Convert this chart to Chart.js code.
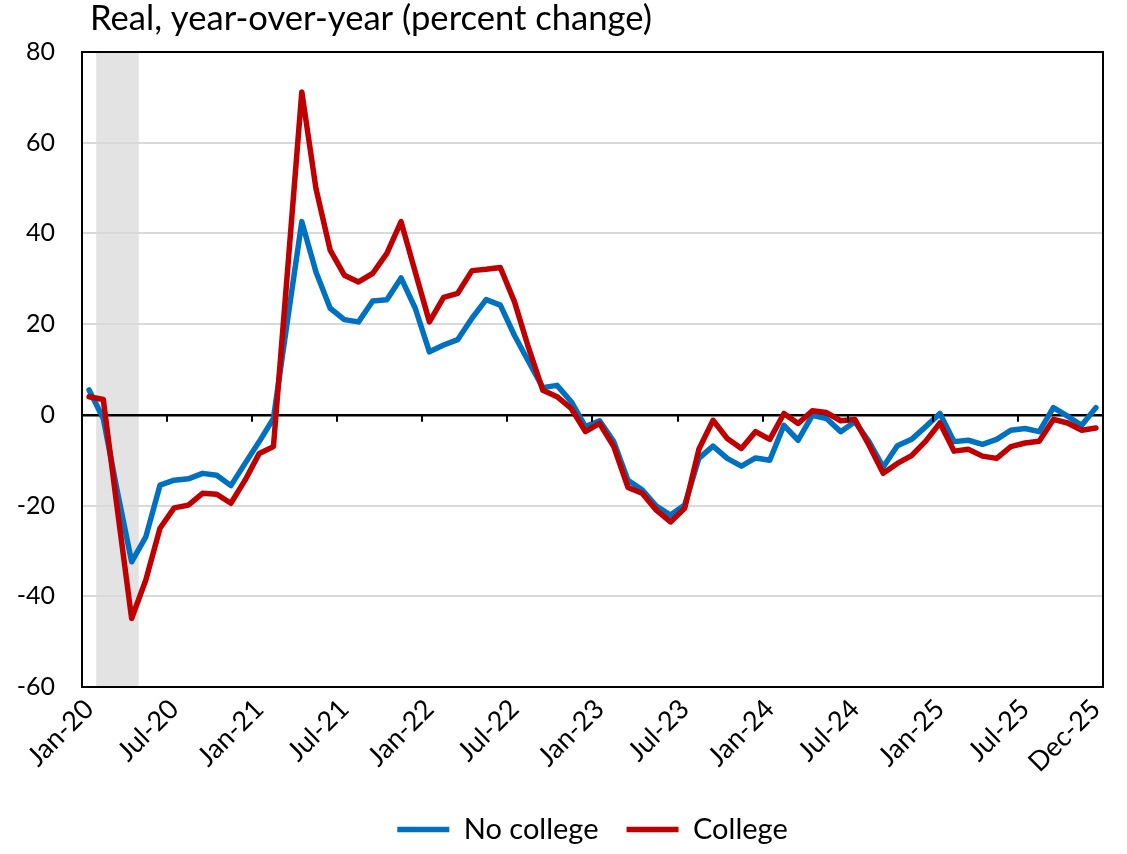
<!DOCTYPE html>
<html lang="en">
<head>
  <meta charset="UTF-8">
  <title>Real, year-over-year</title>
  <script src="https://cdn.jsdelivr.net/npm/chart.js"></script>
  <style>
    html, body { margin: 0; padding: 0; background: #fff; }
    .wrap { width: 1127px; height: 854px; }
  </style>
</head>
<body>
  <div class="wrap">
    <canvas id="myChart" width="1127" height="854"></canvas>
  </div>

<script>
  // categories
  var meses = ['Jan','Feb','Mar','Apr','May','Jun','Jul','Aug','Sep','Oct','Nov','Dec'];
  var anos = ['20','21','22','23','24','25'];
  var labels = [];
  anos.forEach(function (a) { meses.forEach(function (m) { labels.push(m + '-' + a); }); });

  // tick labels shown on the x axis
  var tickLabels = ['Jan-20','Jul-20','Jan-21','Jul-21','Jan-22','Jul-22','Jan-23','Jul-23','Jan-24','Jul-24','Jan-25','Jul-25','Dec-25'];

  // recession shading
  var recessao = ['Feb-20', 'Apr-20'];

  var noCollege = [
    5.5, -0.8, -17, -32.4, -26.9, -15.5, -14.4, -14.1, -12.9, -13.3, -15.6, -10.7,
    -5.9, -0.8, 21, 42.6, 31.5, 23.5, 21.0, 20.5, 25.1, 25.4, 30.2, 23.5,
    13.9, 15.4, 16.6, 21.3, 25.4, 24.2, 17.5, 11.7, 6.0, 6.5, 2.9, -2.6,
    -1.3, -5.9, -14.4, -16.5, -20.1, -22.1, -19.9, -9.6, -6.9, -9.6, -11.3, -9.5,
    -10.0, -2.3, -5.6, -0.1, -0.8, -3.7, -1.5, -5.9, -11.5, -6.8, -5.4, -2.6,
    0.3, -5.9, -5.6, -6.5, -5.4, -3.4, -3.0, -3.7, 1.6, -0.3, -2.3, 1.6
  ];

  var college = [
    4.0, 3.4, -21, -44.9, -36.4, -25, -20.5, -19.9, -17.3, -17.5, -19.5, -14.4,
    -8.5, -7.0, 32, 71.2, 49.9, 36.3, 30.8, 29.3, 31.2, 35.6, 42.6, 31.5,
    20.5, 25.9, 26.8, 31.8, 32.1, 32.5, 24.9, 14.7, 5.4, 4.0, 1.4, -3.7,
    -1.9, -7.0, -16.0, -17.3, -21.0, -23.6, -20.6, -7.6, -1.2, -5.2, -7.4, -3.7,
    -5.4, 0.3, -1.9, 0.9, 0.5, -1.3, -1.0, -6.7, -12.9, -10.7, -9.0, -5.8,
    -1.8, -8.0, -7.6, -9.1, -9.6, -7.0, -6.2, -5.8, -1.0, -1.8, -3.4, -2.9
  ];

  var fonte = 'Lato';

  // shading, frame, zero-line ticks and title
  const extras = {
    id: 'extras',
    beforeDraw(chart) {
      const ctx = chart.ctx;
      const area = chart.chartArea;
      const x = chart.scales.x;
      const meio = (x.getPixelForValue(1) - x.getPixelForValue(0)) / 2;
      const x0 = x.getPixelForValue(labels.indexOf(recessao[0])) - meio;
      const x1 = x.getPixelForValue(labels.indexOf(recessao[1])) + meio;
      ctx.save();
      ctx.fillStyle = '#e3e3e3';
      ctx.fillRect(x0, area.top, x1 - x0, area.bottom - area.top);
      ctx.restore();
    },
    afterDraw(chart) {
      const ctx = chart.ctx;
      const area = chart.chartArea;
      const x = chart.scales.x;
      const y = chart.scales.y;
      const meio = (x.getPixelForValue(1) - x.getPixelForValue(0)) / 2;
      const y0 = y.getPixelForValue(0);
      ctx.save();
      ctx.strokeStyle = '#000';
      ctx.lineWidth = 2;
      for (let i = 6; i < labels.length; i += 6) {
        const px = Math.round(x.getPixelForValue(i) - meio);
        ctx.beginPath();
        ctx.moveTo(px, y0);
        ctx.lineTo(px, y0 + 7);
        ctx.stroke();
      }
      ctx.strokeRect(area.left, area.top, area.right - area.left, area.bottom - area.top);

      ctx.fillStyle = '#000';
      ctx.font = '34.6px ' + fonte;
      ctx.textAlign = 'left';
      ctx.textBaseline = 'alphabetic';
      ctx.fillText('Real, year-over-year (percent change)', 90, 30);
      ctx.restore();
    }
  };

  const ctxChart = document.getElementById('myChart');

  const grafico = new Chart(ctxChart, {
    type: 'line',
    data: {
      labels: labels,
      datasets: [{
        label: 'No college',
        data: noCollege,
        borderColor: '#0070C0',
        backgroundColor: '#0070C0',
        borderWidth: 5.5,
        pointRadius: 0,
        tension: 0,
        borderJoinStyle: 'round',
        borderCapStyle: 'round',
        order: 2
      }, {
        label: 'College',
        data: college,
        borderColor: '#C00000',
        backgroundColor: '#C00000',
        borderWidth: 5.5,
        pointRadius: 0,
        tension: 0,
        borderJoinStyle: 'round',
        borderCapStyle: 'round',
        order: 1
      }]
    },
    options: {
      responsive: false,
      animation: false,
      layout: {
        padding: { left: 0, right: 24, top: 52, bottom: 0 }
      },
      plugins: {
        title: { display: false },
        tooltip: { enabled: false },
        legend: {
          position: 'bottom',
          fullSize: false,
          labels: {
            usePointStyle: true,
            pointStyle: 'line',
            pointStyleWidth: 52,
            boxHeight: 5,
            padding: 28,
            color: '#000',
            font: { family: fonte, size: 29 },
            sort: function (a, b) { return a.datasetIndex - b.datasetIndex; }
          }
        }
      },
      scales: {
        x: {
          type: 'category',
          offset: true,
          grid: { display: false, drawTicks: false },
          border: { display: false },
          afterFit: function (scale) { scale.height = 100; },
          ticks: {
            autoSkip: false,
            maxRotation: 45,
            minRotation: 45,
            padding: 6,
            color: '#000',
            font: { family: fonte, size: 27 },
            callback: function (val, i) {
              var l = labels[i];
              return tickLabels.indexOf(l) >= 0 ? l : '';
            }
          }
        },
        y: {
          min: -60,
          max: 80,
          afterFit: function (scale) { scale.width = 82; },
          border: { display: false },
          grid: {
            drawTicks: false,
            lineWidth: function (c) { return c.tick && c.tick.value === 0 ? 2.5 : 2; },
            color: function (c) { return c.tick && c.tick.value === 0 ? '#000' : '#d9d9d9'; }
          },
          ticks: {
            stepSize: 20,
            padding: 27,
            color: '#000',
            font: { family: fonte, size: 25 }
          }
        }
      }
    },
    plugins: [extras]
  });
</script>
</body>
</html>
